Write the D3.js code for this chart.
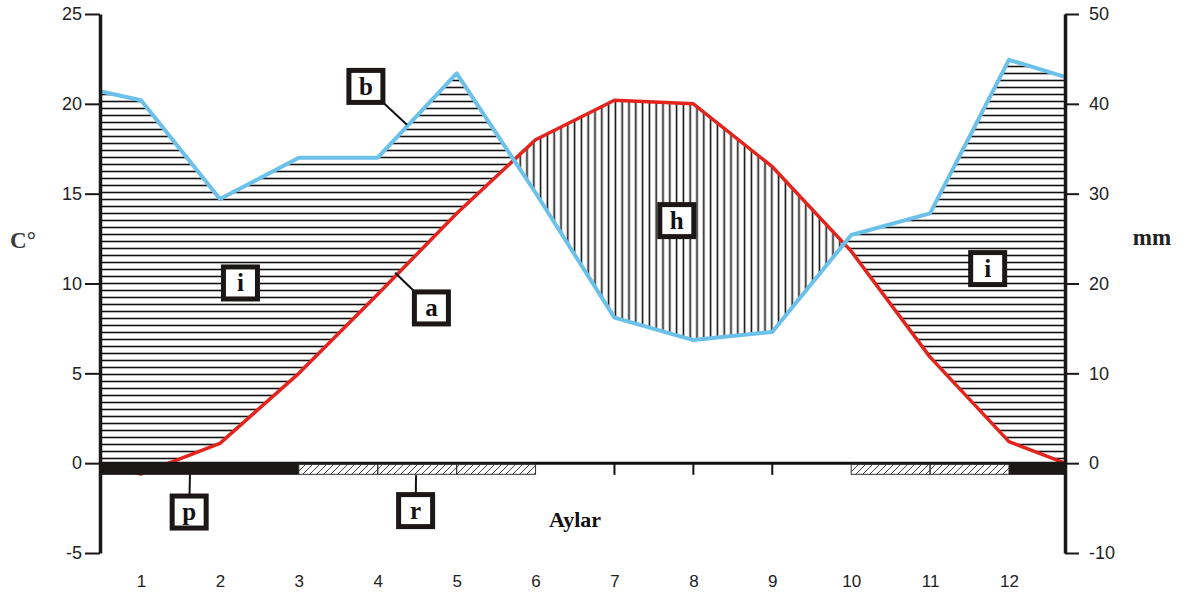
<!DOCTYPE html>
<html>
<head>
<meta charset="utf-8">
<script src="https://cdn.jsdelivr.net/npm/d3@7"></script>
<style>
  body { margin: 0; background: #fff; }
  svg { display: block; }
  .tick text { font-family: "Liberation Sans", Arial, sans-serif; fill: #222; }
</style>
</head>
<body>
<div id="chart"></div>
<script>
// month positions (first and last are the frame edges)
var points = [0.48, 1, 2, 3, 4, 5, 6, 7, 8, 9, 10, 11, 12, 12.71];
var temperature = [0, -0.6, 1.1, 5.0, 9.4, 13.9, 18.0, 20.2, 20.0, 16.5, 11.8, 5.9, 1.2, 0];
var precipitation = [41.4, 40.4, 29.4, 34.0, 34.0, 43.4, 30.1, 16.2, 13.7, 14.6, 25.4, 27.8, 44.9, 43.0];
var monthLabels = ["1", "2", "3", "4", "5", "6", "7", "8", "9", "10", "11", "12"];
var tempTicks = [-5, 0, 5, 10, 15, 20, 25];
var precTicks = [-10, 0, 10, 20, 30, 40, 50];
var frostSure = [[0.48, 3], [12, 12.71]];
var frostProbable = [[3, 4], [4, 5], [5, 6], [10, 11], [11, 12]];
var zeroTicks = [7, 8, 9];
var labels = [
  {t: "b", m: 3.85, v: 20.97, lm: 4.37, lv: 18.83},
  {t: "i", m: 2.26, v: 10.03},
  {t: "a", m: 4.68, v: 8.64, lm: 4.22, lv: 10.6},
  {t: "h", m: 7.79, v: 13.5},
  {t: "i", m: 11.73, v: 10.83},
  {t: "p", m: 1.61, v: -2.72, lm: 1.62, lv: -0.61},
  {t: "r", m: 4.48, v: -2.64, lm: 4.485, lv: -0.67}
];

var W = 1185, H = 603,
    pLeft = 100, pRight = 1065, pTop = 14, pBottom = 553;

var svg = d3.select("#chart").append("svg")
    .attr("width", W)
    .attr("height", H);

var x = d3.scaleLinear().domain([0.48, 12.71]).range([pLeft, pRight]);
var yT = d3.scaleLinear().domain([-5, 25]).range([pBottom, pTop]);
var yP = d3.scaleLinear().domain([-10, 50]).range([pBottom, pTop]);

var data = points.map(function (m, i) {
  return {m: m, t: temperature[i], p: precipitation[i]};
});

var defs = svg.append("defs");

var ph = defs.append("pattern").attr("id", "hatchH")
    .attr("patternUnits", "userSpaceOnUse").attr("width", 10).attr("height", 7);
ph.append("line").attr("x1", 0).attr("x2", 10).attr("y1", 3.5).attr("y2", 3.5)
    .attr("stroke", "#111").attr("stroke-width", 1.6);

var pv = defs.append("pattern").attr("id", "hatchV")
    .attr("patternUnits", "userSpaceOnUse").attr("width", 6.8).attr("height", 10);
pv.append("line").attr("x1", 3.4).attr("x2", 3.4).attr("y1", 0).attr("y2", 10)
    .attr("stroke", "#111").attr("stroke-width", 1.6);

var pd = defs.append("pattern").attr("id", "hatchD")
    .attr("patternUnits", "userSpaceOnUse").attr("width", 7).attr("height", 7);
pd.append("line").attr("x1", 0).attr("y1", 7).attr("x2", 7).attr("y2", 0)
    .attr("stroke", "#444").attr("stroke-width", 1);
pd.append("line").attr("x1", -1).attr("y1", 1).attr("x2", 1).attr("y2", -1)
    .attr("stroke", "#444").attr("stroke-width", 1);
pd.append("line").attr("x1", 6).attr("y1", 8).attr("x2", 8).attr("y2", 6)
    .attr("stroke", "#444").attr("stroke-width", 1);

// clip regions
var belowBlue = d3.area().x(function (d) { return x(d.m); })
    .y0(yT(0)).y1(function (d) { return yP(d.p); });
var belowRed = d3.area().x(function (d) { return x(d.m); })
    .y0(pBottom).y1(function (d) { return yT(d.t); });
var aboveRed = d3.area().x(function (d) { return x(d.m); })
    .y0(pTop).y1(function (d) { return yT(d.t); });
var aboveBlue = d3.area().x(function (d) { return x(d.m); })
    .y0(pTop).y1(function (d) { return yP(d.p); });

defs.append("clipPath").attr("id", "clipBlue").append("path").attr("d", belowBlue(data));
defs.append("clipPath").attr("id", "clipRed").append("path").attr("d", belowRed(data));

// humid (i) and arid (h) areas
svg.append("g").attr("clip-path", "url(#clipBlue)")
  .append("path").attr("d", aboveRed(data)).attr("fill", "url(#hatchH)");
svg.append("g").attr("clip-path", "url(#clipRed)")
  .append("path").attr("d", aboveBlue(data)).attr("fill", "url(#hatchV)");

// lines
var redLine = d3.line().x(function (d) { return x(d.m); }).y(function (d) { return yT(d.t); });
var blueLine = d3.line().x(function (d) { return x(d.m); }).y(function (d) { return yP(d.p); });

svg.append("path").attr("d", redLine(data))
    .attr("fill", "none").attr("stroke", "#e3241d").attr("stroke-width", 3.5)
    .attr("stroke-linejoin", "round");
svg.append("path").attr("d", blueLine(data))
    .attr("fill", "none").attr("stroke", "#6cc1ea").attr("stroke-width", 4)
    .attr("stroke-linejoin", "round");

// zero line and frost bands
svg.append("line")
    .attr("x1", pLeft).attr("x2", pRight).attr("y1", yT(0)).attr("y2", yT(0))
    .attr("stroke", "#111").attr("stroke-width", 3);

svg.selectAll(".frost")
    .data(frostSure)
  .enter().append("rect")
    .attr("class", "frost")
    .attr("x", function (d) { return x(d[0]); })
    .attr("width", function (d) { return x(d[1]) - x(d[0]); })
    .attr("y", yT(0) - 1)
    .attr("height", yT(-0.65) - yT(0) + 1)
    .attr("fill", "#1a1716");

svg.selectAll(".prob")
    .data(frostProbable)
  .enter().append("rect")
    .attr("class", "prob")
    .attr("x", function (d) { return x(d[0]); })
    .attr("width", function (d) { return x(d[1]) - x(d[0]); })
    .attr("y", yT(0) + 1)
    .attr("height", yT(-0.62) - yT(0) - 1)
    .attr("fill", "url(#hatchD)")
    .attr("stroke", "#333").attr("stroke-width", 1);

svg.selectAll(".zt")
    .data(zeroTicks)
  .enter().append("line")
    .attr("x1", function (d) { return x(d); }).attr("x2", function (d) { return x(d); })
    .attr("y1", yT(0)).attr("y2", yT(-0.65))
    .attr("stroke", "#111").attr("stroke-width", 2);

// axes
var leftAxis = svg.append("g")
    .attr("transform", "translate(" + pLeft + ",0)")
    .call(d3.axisLeft(yT).tickValues(tempTicks).tickFormat(String)
      .tickSize(15).tickSizeOuter(0).tickPadding(3));
var rightAxis = svg.append("g")
    .attr("transform", "translate(" + pRight + ",0)")
    .call(d3.axisRight(yP).tickValues(precTicks).tickFormat(String)
      .tickSize(14).tickSizeOuter(0).tickPadding(10));
[leftAxis, rightAxis].forEach(function (g) {
  g.select(".domain").attr("stroke", "#1a1716").attr("stroke-width", 3.5);
  g.selectAll(".tick line").attr("stroke", "#1a1716").attr("stroke-width", 2);
  g.selectAll(".tick text").attr("font-size", 18);
});

var monthAxis = svg.append("g")
    .attr("transform", "translate(0,575)")
    .call(d3.axisBottom(x).tickValues(d3.range(1, 13))
      .tickFormat(function (d) { return monthLabels[d - 1]; })
      .tickSize(0).tickPadding(0));
monthAxis.select(".domain").remove();
monthAxis.selectAll(".tick text").attr("font-size", 17);

// axis titles
svg.append("text").attr("x", 23).attr("y", 248)
    .attr("text-anchor", "middle")
    .style("font-family", "'Liberation Serif', 'Times New Roman', serif")
    .style("font-weight", "bold").style("font-size", "23px").style("fill", "#3a3a3a")
    .text("C°");
svg.append("text").attr("x", 1152).attr("y", 245)
    .attr("text-anchor", "middle")
    .style("font-family", "'Liberation Serif', 'Times New Roman', serif")
    .style("font-weight", "bold").style("font-size", "23px").style("fill", "#222")
    .text("mm");
svg.append("text").attr("x", 575).attr("y", 527)
    .attr("text-anchor", "middle")
    .style("font-family", "'Liberation Serif', 'Times New Roman', serif")
    .style("font-weight", "bold").style("font-size", "22px").style("fill", "#111")
    .text("Aylar");

// letter boxes
var lab = svg.selectAll(".lab")
    .data(labels)
  .enter().append("g")
    .attr("class", "lab");
lab.filter(function (d) { return d.lm !== undefined; })
  .append("line")
    .attr("x1", function (d) { return x(d.m); })
    .attr("y1", function (d) { return yT(d.v); })
    .attr("x2", function (d) { return x(d.lm); })
    .attr("y2", function (d) { return yT(d.lv); })
    .attr("stroke", "#111").attr("stroke-width", 2);
lab.append("rect")
    .attr("x", function (d) { return x(d.m) - 17; })
    .attr("y", function (d) { return yT(d.v) - 16; })
    .attr("width", 34).attr("height", 32)
    .attr("fill", "#fff").attr("stroke", "#1a1716").attr("stroke-width", 5);
lab.append("text")
    .attr("x", function (d) { return x(d.m); })
    .attr("y", function (d) { return yT(d.v); })
    .attr("dy", "0.33em")
    .attr("text-anchor", "middle")
    .style("font-family", "'Liberation Serif', 'Times New Roman', serif")
    .style("font-weight", "bold").style("font-size", "25px").style("fill", "#111")
    .text(function (d) { return d.t; });
</script>
</body>
</html>
